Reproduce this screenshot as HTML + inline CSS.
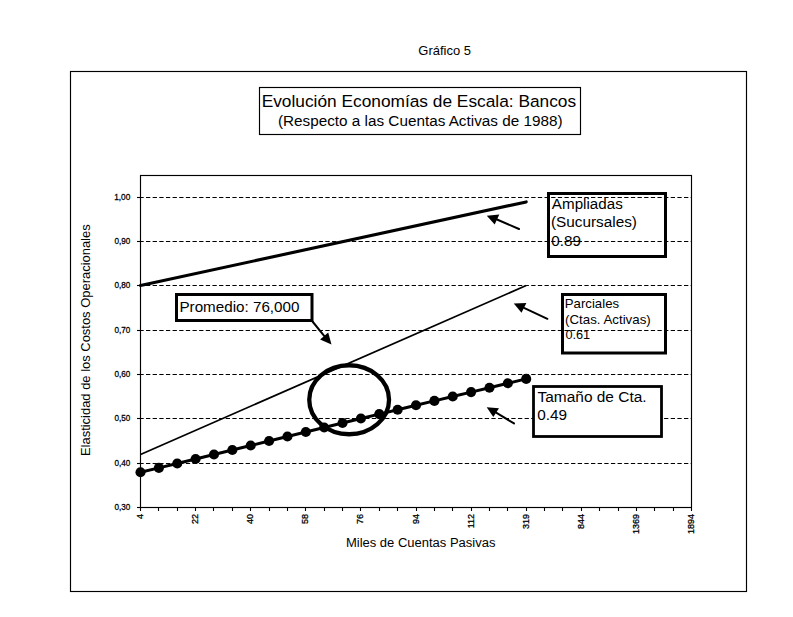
<!DOCTYPE html><html><head><meta charset="utf-8"><style>html,body{margin:0;padding:0;background:#fff;}svg{display:block;}text{font-family:"Liberation Sans",sans-serif;fill:#000;}</style></head><body>
<svg width="793" height="617" viewBox="0 0 793 617">
<rect x="0" y="0" width="793" height="617" fill="#fff"/>
<text x="418.35" y="54.70" font-size="13" textLength="52.59" lengthAdjust="spacingAndGlyphs" >Gráfico 5</text>
<rect x="70.5" y="71.5" width="676" height="520" fill="none" stroke="#000" stroke-width="1.15"/>
<rect x="259.5" y="87.5" width="321" height="47" fill="none" stroke="#000" stroke-width="1.15"/>
<text x="261.68" y="106.95" font-size="16.9" textLength="314.44" lengthAdjust="spacingAndGlyphs" >Evolución Economías de Escala: Bancos</text>
<text x="277.95" y="125.90" font-size="15.2" textLength="284.59" lengthAdjust="spacingAndGlyphs" >(Respecto a las Cuentas Activas de 1988)</text>
<line x1="140.5" y1="463.5" x2="691" y2="463.5" stroke="#000" stroke-width="1.1" stroke-dasharray="4.3 2.342" stroke-dashoffset="1.14"/>
<line x1="140.5" y1="418.5" x2="691" y2="418.5" stroke="#000" stroke-width="1.1" stroke-dasharray="4.3 2.342" stroke-dashoffset="1.14"/>
<line x1="140.5" y1="374.5" x2="691" y2="374.5" stroke="#000" stroke-width="1.1" stroke-dasharray="4.3 2.342" stroke-dashoffset="1.14"/>
<line x1="140.5" y1="330.5" x2="691" y2="330.5" stroke="#000" stroke-width="1.1" stroke-dasharray="4.3 2.342" stroke-dashoffset="1.14"/>
<line x1="140.5" y1="285.5" x2="691" y2="285.5" stroke="#000" stroke-width="1.1" stroke-dasharray="4.3 2.342" stroke-dashoffset="1.14"/>
<line x1="140.5" y1="241.5" x2="691" y2="241.5" stroke="#000" stroke-width="1.1" stroke-dasharray="4.3 2.342" stroke-dashoffset="1.14"/>
<line x1="140.5" y1="197.5" x2="691" y2="197.5" stroke="#000" stroke-width="1.1" stroke-dasharray="4.3 2.342" stroke-dashoffset="1.14"/>
<rect x="140.5" y="175.5" width="551" height="332" fill="none" stroke="#000" stroke-width="1.15"/>
<line x1="137" y1="507.5" x2="140.5" y2="507.5" stroke="#000" stroke-width="1.1"/>
<text x="114.48" y="509.95" font-size="9.8" textLength="15.84" lengthAdjust="spacingAndGlyphs" stroke="#000" stroke-width="0.3" >0,30</text>
<line x1="137" y1="463.5" x2="140.5" y2="463.5" stroke="#000" stroke-width="1.1"/>
<text x="114.48" y="465.95" font-size="9.8" textLength="15.84" lengthAdjust="spacingAndGlyphs" stroke="#000" stroke-width="0.3" >0,40</text>
<line x1="137" y1="418.5" x2="140.5" y2="418.5" stroke="#000" stroke-width="1.1"/>
<text x="114.48" y="420.95" font-size="9.8" textLength="15.84" lengthAdjust="spacingAndGlyphs" stroke="#000" stroke-width="0.3" >0,50</text>
<line x1="137" y1="374.5" x2="140.5" y2="374.5" stroke="#000" stroke-width="1.1"/>
<text x="114.48" y="376.95" font-size="9.8" textLength="15.84" lengthAdjust="spacingAndGlyphs" stroke="#000" stroke-width="0.3" >0,60</text>
<line x1="137" y1="330.5" x2="140.5" y2="330.5" stroke="#000" stroke-width="1.1"/>
<text x="114.48" y="332.95" font-size="9.8" textLength="15.84" lengthAdjust="spacingAndGlyphs" stroke="#000" stroke-width="0.3" >0,70</text>
<line x1="137" y1="285.5" x2="140.5" y2="285.5" stroke="#000" stroke-width="1.1"/>
<text x="114.48" y="287.95" font-size="9.8" textLength="15.84" lengthAdjust="spacingAndGlyphs" stroke="#000" stroke-width="0.3" >0,80</text>
<line x1="137" y1="241.5" x2="140.5" y2="241.5" stroke="#000" stroke-width="1.1"/>
<text x="114.48" y="243.95" font-size="9.8" textLength="15.84" lengthAdjust="spacingAndGlyphs" stroke="#000" stroke-width="0.3" >0,90</text>
<line x1="137" y1="197.5" x2="140.5" y2="197.5" stroke="#000" stroke-width="1.1"/>
<text x="114.17" y="199.95" font-size="9.8" textLength="16.16" lengthAdjust="spacingAndGlyphs" stroke="#000" stroke-width="0.3" >1,00</text>
<line x1="140.5" y1="507.5" x2="140.5" y2="511" stroke="#000" stroke-width="1.1"/>
<g transform="translate(143.20,514.0) rotate(-90)"><text x="0" y="0" font-size="9" text-anchor="end" stroke="#000" stroke-width="0.3">4</text></g>
<line x1="158.5" y1="507.5" x2="158.5" y2="511" stroke="#000" stroke-width="1.1"/>
<line x1="177.5" y1="507.5" x2="177.5" y2="511" stroke="#000" stroke-width="1.1"/>
<line x1="195.5" y1="507.5" x2="195.5" y2="511" stroke="#000" stroke-width="1.1"/>
<g transform="translate(198.20,514.0) rotate(-90)"><text x="0" y="0" font-size="9" text-anchor="end" stroke="#000" stroke-width="0.3">22</text></g>
<line x1="213.5" y1="507.5" x2="213.5" y2="511" stroke="#000" stroke-width="1.1"/>
<line x1="232.5" y1="507.5" x2="232.5" y2="511" stroke="#000" stroke-width="1.1"/>
<line x1="250.5" y1="507.5" x2="250.5" y2="511" stroke="#000" stroke-width="1.1"/>
<g transform="translate(253.20,514.0) rotate(-90)"><text x="0" y="0" font-size="9" text-anchor="end" stroke="#000" stroke-width="0.3">40</text></g>
<line x1="269.5" y1="507.5" x2="269.5" y2="511" stroke="#000" stroke-width="1.1"/>
<line x1="287.5" y1="507.5" x2="287.5" y2="511" stroke="#000" stroke-width="1.1"/>
<line x1="305.5" y1="507.5" x2="305.5" y2="511" stroke="#000" stroke-width="1.1"/>
<g transform="translate(308.20,514.0) rotate(-90)"><text x="0" y="0" font-size="9" text-anchor="end" stroke="#000" stroke-width="0.3">58</text></g>
<line x1="324.5" y1="507.5" x2="324.5" y2="511" stroke="#000" stroke-width="1.1"/>
<line x1="342.5" y1="507.5" x2="342.5" y2="511" stroke="#000" stroke-width="1.1"/>
<line x1="360.5" y1="507.5" x2="360.5" y2="511" stroke="#000" stroke-width="1.1"/>
<g transform="translate(363.20,514.0) rotate(-90)"><text x="0" y="0" font-size="9" text-anchor="end" stroke="#000" stroke-width="0.3">76</text></g>
<line x1="379.5" y1="507.5" x2="379.5" y2="511" stroke="#000" stroke-width="1.1"/>
<line x1="397.5" y1="507.5" x2="397.5" y2="511" stroke="#000" stroke-width="1.1"/>
<line x1="416.5" y1="507.5" x2="416.5" y2="511" stroke="#000" stroke-width="1.1"/>
<g transform="translate(419.20,514.0) rotate(-90)"><text x="0" y="0" font-size="9" text-anchor="end" stroke="#000" stroke-width="0.3">94</text></g>
<line x1="434.5" y1="507.5" x2="434.5" y2="511" stroke="#000" stroke-width="1.1"/>
<line x1="452.5" y1="507.5" x2="452.5" y2="511" stroke="#000" stroke-width="1.1"/>
<line x1="471.5" y1="507.5" x2="471.5" y2="511" stroke="#000" stroke-width="1.1"/>
<g transform="translate(474.20,514.0) rotate(-90)"><text x="0" y="0" font-size="9" text-anchor="end" stroke="#000" stroke-width="0.3">112</text></g>
<line x1="489.5" y1="507.5" x2="489.5" y2="511" stroke="#000" stroke-width="1.1"/>
<line x1="507.5" y1="507.5" x2="507.5" y2="511" stroke="#000" stroke-width="1.1"/>
<line x1="526.5" y1="507.5" x2="526.5" y2="511" stroke="#000" stroke-width="1.1"/>
<g transform="translate(529.20,514.0) rotate(-90)"><text x="0" y="0" font-size="9" text-anchor="end" stroke="#000" stroke-width="0.3">319</text></g>
<line x1="544.5" y1="507.5" x2="544.5" y2="511" stroke="#000" stroke-width="1.1"/>
<line x1="562.5" y1="507.5" x2="562.5" y2="511" stroke="#000" stroke-width="1.1"/>
<line x1="581.5" y1="507.5" x2="581.5" y2="511" stroke="#000" stroke-width="1.1"/>
<g transform="translate(584.20,514.0) rotate(-90)"><text x="0" y="0" font-size="9" text-anchor="end" stroke="#000" stroke-width="0.3">844</text></g>
<line x1="599.5" y1="507.5" x2="599.5" y2="511" stroke="#000" stroke-width="1.1"/>
<line x1="618.5" y1="507.5" x2="618.5" y2="511" stroke="#000" stroke-width="1.1"/>
<line x1="636.5" y1="507.5" x2="636.5" y2="511" stroke="#000" stroke-width="1.1"/>
<g transform="translate(639.20,514.0) rotate(-90)"><text x="0" y="0" font-size="9" text-anchor="end" stroke="#000" stroke-width="0.3">1369</text></g>
<line x1="654.5" y1="507.5" x2="654.5" y2="511" stroke="#000" stroke-width="1.1"/>
<line x1="673.5" y1="507.5" x2="673.5" y2="511" stroke="#000" stroke-width="1.1"/>
<line x1="691.5" y1="507.5" x2="691.5" y2="511" stroke="#000" stroke-width="1.1"/>
<g transform="translate(694.20,514.0) rotate(-90)"><text x="0" y="0" font-size="9" text-anchor="end" stroke="#000" stroke-width="0.3">1894</text></g>
<text x="345.93" y="546.50" font-size="12.5" textLength="149.54" lengthAdjust="spacingAndGlyphs" >Miles de Cuentas Pasivas</text>
<g transform="translate(89.80,455.00) rotate(-90)"><text x="-1.06" y="0" font-size="12.9" textLength="231.72" lengthAdjust="spacingAndGlyphs">Elasticidad de los Costos Operacionales</text></g>
<line x1="140.50" y1="285.50" x2="526.20" y2="201.90" stroke="#000" stroke-width="3.1" stroke-linecap="round"/>
<line x1="140.50" y1="454.50" x2="526.20" y2="285.50" stroke="#000" stroke-width="1.75"/>
<polyline points="140.50,472.30 158.87,467.90 177.23,463.50 195.60,459.00 213.97,454.50 232.33,450.00 250.70,445.50 269.07,441.00 287.43,436.50 305.80,432.00 324.17,427.50 342.53,423.00 360.90,418.50 379.27,414.10 397.63,409.70 416.00,405.30 434.37,400.90 452.73,396.50 471.10,392.10 489.47,387.70 507.83,383.30 526.20,378.90" fill="none" stroke="#000" stroke-width="3"/>
<circle cx="140.50" cy="472.30" r="5.05" fill="#000"/>
<circle cx="158.87" cy="467.90" r="5.05" fill="#000"/>
<circle cx="177.23" cy="463.50" r="5.05" fill="#000"/>
<circle cx="195.60" cy="459.00" r="5.05" fill="#000"/>
<circle cx="213.97" cy="454.50" r="5.05" fill="#000"/>
<circle cx="232.33" cy="450.00" r="5.05" fill="#000"/>
<circle cx="250.70" cy="445.50" r="5.05" fill="#000"/>
<circle cx="269.07" cy="441.00" r="5.05" fill="#000"/>
<circle cx="287.43" cy="436.50" r="5.05" fill="#000"/>
<circle cx="305.80" cy="432.00" r="5.05" fill="#000"/>
<circle cx="324.17" cy="427.50" r="5.05" fill="#000"/>
<circle cx="342.53" cy="423.00" r="5.05" fill="#000"/>
<circle cx="360.90" cy="418.50" r="5.05" fill="#000"/>
<circle cx="379.27" cy="414.10" r="5.05" fill="#000"/>
<circle cx="397.63" cy="409.70" r="5.05" fill="#000"/>
<circle cx="416.00" cy="405.30" r="5.05" fill="#000"/>
<circle cx="434.37" cy="400.90" r="5.05" fill="#000"/>
<circle cx="452.73" cy="396.50" r="5.05" fill="#000"/>
<circle cx="471.10" cy="392.10" r="5.05" fill="#000"/>
<circle cx="489.47" cy="387.70" r="5.05" fill="#000"/>
<circle cx="507.83" cy="383.30" r="5.05" fill="#000"/>
<circle cx="526.20" cy="378.90" r="5.05" fill="#000"/>
<ellipse cx="349.15" cy="399.75" rx="39.9" ry="34.5" fill="none" stroke="#000" stroke-width="4.3"/>
<rect x="548.5" y="193.5" width="117" height="63" fill="none" stroke="#000" stroke-width="3"/>
<text x="551.87" y="208.90" font-size="14.7" textLength="70.88" lengthAdjust="spacingAndGlyphs" >Ampliadas</text>
<text x="550.95" y="226.60" font-size="14.7" textLength="86.00" lengthAdjust="spacingAndGlyphs" >(Sucursales)</text>
<text x="551.30" y="245.50" font-size="14.7" textLength="29.72" lengthAdjust="spacingAndGlyphs" >0.89</text>
<rect x="562.5" y="294.5" width="103" height="58.5" fill="none" stroke="#000" stroke-width="3"/>
<text x="564.82" y="307.60" font-size="13.0" textLength="54.25" lengthAdjust="spacingAndGlyphs" >Parciales</text>
<text x="565.08" y="323.50" font-size="13.0" textLength="85.65" lengthAdjust="spacingAndGlyphs" >(Ctas. Activas)</text>
<text x="565.40" y="339.40" font-size="13.0" textLength="24.83" lengthAdjust="spacingAndGlyphs" >0.61</text>
<rect x="533.5" y="386.5" width="128" height="50" fill="#fff" stroke="#000" stroke-width="2.8"/>
<text x="537.56" y="402.00" font-size="15.1" textLength="109.04" lengthAdjust="spacingAndGlyphs" >Tamaño de Cta.</text>
<text x="537.30" y="419.90" font-size="15.1" textLength="29.82" lengthAdjust="spacingAndGlyphs" >0.49</text>
<rect x="176.5" y="294.5" width="135.5" height="26" fill="#fff" stroke="#000" stroke-width="3"/>
<text x="179.45" y="312.10" font-size="15.0" textLength="120.04" lengthAdjust="spacingAndGlyphs" >Promedio: 76,000</text>
<line x1="519" y1="229" x2="497.00" y2="219.50" stroke="#000" stroke-width="2.0" stroke-linecap="round"/>
<polygon points="486.8,215.7 499.3,214.6 494.7,224.4" fill="#000"/>
<line x1="547.4" y1="318.8" x2="523.95" y2="307.85" stroke="#000" stroke-width="2.0" stroke-linecap="round"/>
<polygon points="513.8,303.4 526.4,303 521.5,312.7" fill="#000"/>
<line x1="514" y1="423.4" x2="496.15" y2="412.70" stroke="#000" stroke-width="2.0" stroke-linecap="round"/>
<polygon points="486.7,407.2 499,408.3 493.3,417.1" fill="#000"/>
<line x1="312.5" y1="321.5" x2="324.15" y2="335.95" stroke="#000" stroke-width="2.0" stroke-linecap="round"/>
<polygon points="331.5,344.4 320.1,339.5 328.2,332.4" fill="#000"/>
</svg></body></html>
